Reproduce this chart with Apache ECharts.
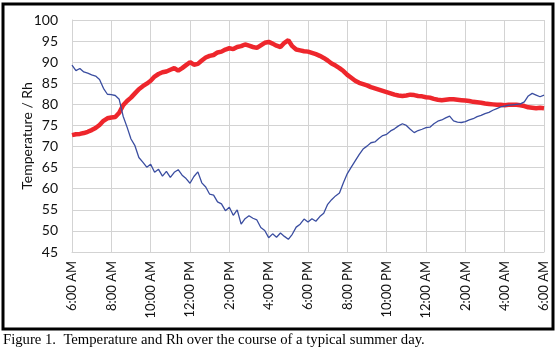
<!DOCTYPE html>
<html>
<head>
<meta charset="utf-8">
<title>Temperature and Rh</title>
<script src="https://cdn.jsdelivr.net/npm/echarts@6/dist/echarts.min.js"></script>
<style>
    html, body { margin: 0; padding: 0; background: #ffffff; }
    #chart { width: 556px; height: 352px; }
</style>
</head>
<body>
<div id="chart"></div>
<script>
'use strict';

// hours after 6:00 AM, one sample every 12 minutes
var hours = [
    0, 0.2, 0.4, 0.6, 0.8, 1, 1.2, 1.4, 1.6, 1.8,
    2, 2.2, 2.4, 2.6, 2.8, 3, 3.2, 3.4, 3.6, 3.8,
    4, 4.2, 4.4, 4.6, 4.8, 5, 5.2, 5.4, 5.6, 5.8,
    6, 6.2, 6.4, 6.6, 6.8, 7, 7.2, 7.4, 7.6, 7.8,
    8, 8.2, 8.4, 8.6, 8.8, 9, 9.2, 9.4, 9.6, 9.8,
    10, 10.2, 10.4, 10.6, 10.8, 11, 11.2, 11.4, 11.6, 11.8,
    12, 12.2, 12.4, 12.6, 12.8, 13, 13.2, 13.4, 13.6, 13.8,
    14, 14.2, 14.4, 14.6, 14.8, 15, 15.2, 15.4, 15.6, 15.8,
    16, 16.2, 16.4, 16.6, 16.8, 17, 17.2, 17.4, 17.6, 17.8,
    18, 18.2, 18.4, 18.6, 18.8, 19, 19.2, 19.4, 19.6, 19.8,
    20, 20.2, 20.4, 20.6, 20.8, 21, 21.2, 21.4, 21.6, 21.8,
    22, 22.2, 22.4, 22.6, 22.8, 23, 23.2, 23.4, 23.6, 23.8,
    24
];

// temperature (red)
var temperature = [
    72.7, 72.9, 73.0, 73.2, 73.5, 73.9, 74.4, 75.1, 76.1, 76.7,
    76.9, 77.0, 78.0, 79.8, 80.8, 81.6, 82.6, 83.6, 84.3, 84.9,
    85.6, 86.6, 87.2, 87.6, 87.8, 88.2, 88.6, 88.0, 88.6, 89.3,
    90.0, 89.4, 89.6, 90.4, 91.1, 91.5, 91.7, 92.3, 92.5, 93.0,
    93.3, 93.1, 93.6, 93.8, 94.2, 93.9, 93.6, 93.4, 94.0, 94.6,
    94.8, 94.4, 93.9, 93.6, 94.6, 95.2, 93.8, 93.0, 92.8, 92.6,
    92.5, 92.2, 91.9, 91.5, 91.0, 90.4, 89.7, 89.2, 88.6, 87.9,
    87.0, 86.3, 85.6, 85.1, 84.8, 84.5, 84.1, 83.8, 83.5, 83.2,
    82.9, 82.6, 82.3, 82.1, 82.0, 82.1, 82.3, 82.2, 82.0, 81.9,
    81.7, 81.6, 81.3, 81.1, 81.0, 81.1, 81.2, 81.2, 81.1, 81.0,
    80.9, 80.8, 80.6, 80.5, 80.4, 80.2, 80.1, 80.0, 79.9, 79.9,
    79.8, 79.9, 79.9, 79.9, 79.8, 79.6, 79.3, 79.2, 79.1, 79.2,
    79.1
];

// relative humidity (blue)
var rh = [
    89.3, 88.0, 88.5, 87.7, 87.4, 87.0, 86.7, 85.9, 83.8, 82.4,
    82.3, 82.1, 81.2, 77.2, 74.6, 71.8, 70.2, 67.4, 66.3, 65.1,
    65.8, 63.9, 64.6, 63.0, 64.1, 62.7, 63.9, 64.5, 63.2, 62.4,
    61.3, 62.9, 64.0, 61.4, 60.4, 58.7, 58.5, 56.9, 56.4, 54.8,
    55.6, 53.7, 55.0, 51.6, 52.9, 53.6, 53.0, 52.6, 50.8, 50.1,
    48.4, 49.3, 48.5, 49.5, 48.7, 48.0, 49.2, 50.9, 51.6, 52.8,
    52.1, 52.9, 52.3, 53.4, 54.2, 56.3, 57.4, 58.3, 59.0, 61.4,
    63.6, 65.1, 66.6, 68.1, 69.4, 70.1, 70.9, 71.1, 71.9, 72.6,
    72.9, 73.7, 74.2, 74.9, 75.4, 75.0, 74.1, 73.3, 73.8, 74.1,
    74.5, 74.6, 75.4, 76.0, 76.3, 76.8, 77.2, 76.1, 75.8, 75.7,
    75.9, 76.3, 76.6, 77.1, 77.4, 77.8, 78.1, 78.6, 79.0, 79.4,
    79.6, 79.8, 79.9, 80.0, 80.1, 80.6, 82.0, 82.6, 82.2, 81.8,
    82.2
];

// x tick labels, one every 2 hours
var tickLabels = [
    '6:00 AM', '8:00 AM', '10:00 AM', '12:00 PM', '2:00 PM', '4:00 PM', '6:00 PM',
    '8:00 PM', '10:00 PM', '12:00 AM', '2:00 AM', '4:00 AM', '6:00 AM'
];

var captionText = 'Figure 1.  Temperature and Rh over the course of a typical summer day.';

function pairUp(xs, ys) {
    var out = [];
    for (var i = 0; i < xs.length; i++) {
        out.push([xs[i], ys[i]]);
    }
    return out;
}

var gridColor = '#d3d3d3';
var labelFont = 'Lato, "Open Sans", sans-serif';

var option = {
    animation: false,
    backgroundColor: '#ffffff',
    grid: { left: 72, right: 12, top: 20, bottom: 100 },
    xAxis: {
        type: 'value',
        min: 0,
        max: 24,
        interval: 2,
        axisLine: { show: true, lineStyle: { color: gridColor } },
        axisTick: { show: false },
        splitLine: { show: true, lineStyle: { color: gridColor, width: 1 } },
        axisLabel: {
            rotate: 90,
            margin: 9,
            fontFamily: labelFont,
            fontSize: 13,
            color: '#111111',
            formatter: function (v) {
                return tickLabels[Math.round(v / 2)];
            }
        }
    },
    yAxis: {
        type: 'value',
        min: 45,
        max: 100,
        interval: 5,
        name: 'Temperature / Rh',
        nameLocation: 'middle',
        nameGap: 38,
        nameMoveOverlap: false,
        nameTextStyle: { fontFamily: labelFont, fontSize: 14, color: '#111111' },
        axisLine: { show: true, lineStyle: { color: gridColor } },
        axisTick: { show: false },
        splitLine: { show: true, lineStyle: { color: gridColor, width: 1 } },
        axisLabel: { margin: 14, fontFamily: labelFont, fontSize: 14, color: '#111111' }
    },
    series: [
        {
            name: 'Temperature',
            type: 'line',
            data: pairUp(hours, temperature),
            showSymbol: false,
            lineStyle: { color: '#ee262c', width: 4.5 },
            z: 2
        },
        {
            name: 'Rh',
            type: 'line',
            data: pairUp(hours, rh),
            showSymbol: false,
            lineStyle: { color: '#3a4da0', width: 1.3 },
            z: 3
        }
    ],
    graphic: [
        {
            type: 'rect',
            shape: { x: 3, y: 4, width: 550, height: 325 },
            style: { fill: 'none', stroke: '#000000', lineWidth: 3 },
            silent: true
        },
        {
            type: 'text',
            left: 3,
            top: 333,
            style: {
                text: captionText,
                font: '14.7px "Liberation Serif", "Times New Roman", serif',
                fill: '#000000'
            }
        }
    ]
};

var myChart = echarts.init(document.getElementById('chart'), null, { renderer: 'canvas' });
myChart.setOption(option);
</script>
</body>
</html>
